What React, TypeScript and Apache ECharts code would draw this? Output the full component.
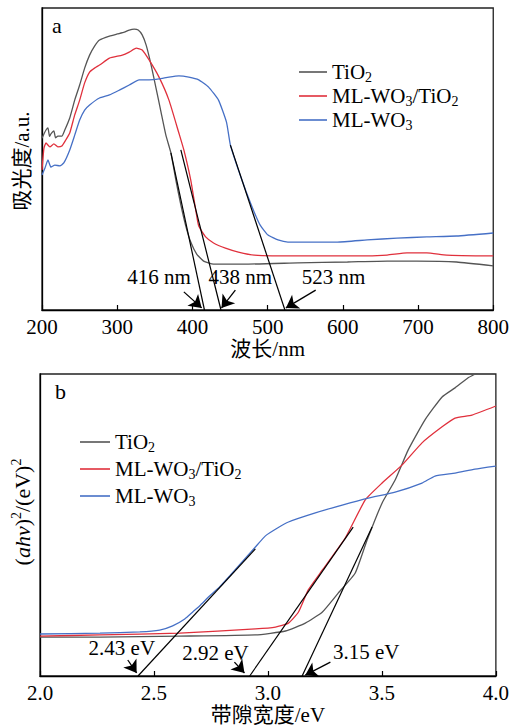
import React, { useEffect, useRef } from "react";
import * as echarts from "echarts";

// ---------- Panel a: UV-vis absorption (wavelength nm, absorbance a.u.) ----------
const tio2A: number[][] = [
  [200, 56.9], [203, 58.5], [205.3, 59.6], [207.9, 60.3], [210, 57.5], [211.9, 58.3], [215.8, 59.3], [218, 57.0],
  [221.1, 57.6], [226.4, 57.6], [230.3, 59.6], [236.9, 63.6], [243.5, 69.5], [250.1, 74.5],
  [256.7, 80.1], [263.3, 84.4], [269.9, 87.4], [276.5, 89.4], [289.7, 90.7], [300.2, 91.4],
  [309.5, 92.0], [316.0, 92.7], [322.6, 93.0], [327.9, 92.7], [333.2, 91.1], [338.5, 87.7],
  [345.1, 81.1], [351.6, 73.5], [358.2, 65.6], [364.8, 57.8], [371.4, 52.0], [378.0, 43.0],
  [384.6, 34.8], [391.2, 27.8], [397.8, 22.5], [405.7, 18.5], [414.9, 16.2], [428.0, 15.2],
  [474.3, 15.2], [540.2, 15.6], [606.2, 15.9], [658.9, 16.2], [698.5, 16.2], [751.2, 15.9], [800, 14.6],
];
const mlwo3TiO2A: number[][] = [
  [200, 46.4], [202.6, 53.6], [205.3, 55.3], [210.5, 54.0], [215.8, 55.0], [221.1, 54.0],
  [226.4, 54.3], [231.6, 56.3], [236.9, 58.6], [243.5, 64.6], [250.1, 69.5], [256.7, 75.2],
  [263.3, 78.8], [269.9, 80.1], [276.5, 81.1], [289.7, 83.4], [306.8, 84.4], [316.0, 85.4],
  [325.3, 86.7], [333.2, 86.1], [342.4, 82.8], [355.6, 77.1], [368.8, 69.5], [382.0, 58.6],
  [388.6, 53.0], [397.8, 43.0], [404.4, 33.1], [408.4, 27.8], [417.6, 24.2], [428.1, 22.2],
  [443.9, 20.5], [461.1, 19.2], [482.2, 18.2], [540.2, 17.9], [619.3, 17.9], [658.9, 18.2],
  [685.3, 18.9], [711.6, 18.9], [738.0, 18.2], [800, 17.9],
];
const mlwo3A: number[][] = [
  [200, 44.7], [204, 47.0], [207.9, 49.7], [211.9, 47.3], [217.1, 48.0], [223.7, 47.7],
  [229.0, 48.7], [236.9, 53.0], [243.5, 57.9], [250.1, 62.9], [256.7, 66.2], [263.3, 67.9],
  [276.5, 70.2], [289.7, 71.2], [302.8, 72.8], [316.0, 74.5], [329.2, 76.2], [342.4, 76.2],
  [355.6, 76.5], [368.8, 77.1], [382.0, 77.5], [395.2, 77.1], [408.4, 76.2], [421.5, 73.8],
  [434.7, 69.5], [445.3, 62.2], [450.5, 54.6], [461.1, 46.4], [471.6, 39.1], [482.2, 32.4],
  [490.1, 28.1], [500.6, 24.8], [513.8, 23.2], [527.0, 22.5], [553.3, 22.5], [592.9, 22.5],
  [632.4, 23.2], [672.0, 23.8], [711.6, 24.2], [751.2, 24.5], [800, 25.5],
];
const edgesA = [416, 438, 523];
const tangentTopsA: number[][] = [[371.4, 52.0], [384.6, 53.0], [450.5, 54.6]];
const arrowStartsA: number[][] = [[388.6, 6.0], [457.1, 6.6], [563.9, 6.6]];
const arrowEndsA: number[][] = [[412.3, 0.7], [438.7, 0.7], [524.3, 0.7]];
const edgeLabelsA = ["416 nm", "438 nm", "523 nm"];
const edgeLabelPosA: number[][] = [[355.6, 10.9], [463.7, 10.9], [587.7, 10.9]];
const ticksA = [200, 300, 400, 500, 600, 700, 800];

// ---------- Panel b: Tauc plot (band gap eV) ----------
const tio2B: number[][] = [
  [2.0, 12.9], [2.263, 12.9], [2.613, 13.2], [2.945, 13.6], [3.077, 14.9], [3.164, 17.5],
  [3.239, 21.2], [3.309, 27.5], [3.383, 34.1], [3.435, 45.0], [3.501, 57.3], [3.558, 64.9],
  [3.615, 74.8], [3.689, 84.8], [3.764, 92.4], [3.821, 95.4], [3.877, 98.7], [3.917, 100.3], [4.0, 104],
];
const mlwo3TiO2B: number[][] = [
  [2.0, 13.2], [2.263, 13.6], [2.613, 14.2], [2.945, 15.6], [3.033, 16.2], [3.090, 17.5],
  [3.134, 21.2], [3.177, 28.5], [3.239, 35.1], [3.339, 45.7], [3.427, 58.3], [3.501, 63.9],
  [3.589, 69.9], [3.676, 77.2], [3.764, 82.5], [3.821, 85.4], [3.895, 86.4], [4.0, 89.4],
];
const mlwo3B: number[][] = [
  [2.0, 13.9], [2.263, 14.2], [2.438, 14.6], [2.525, 15.2], [2.582, 16.6], [2.635, 18.9],
  [2.670, 21.2], [2.700, 23.2], [2.744, 26.5], [2.788, 29.5], [2.832, 33.1], [2.875, 36.8],
  [2.945, 42.7], [2.989, 46.4], [3.042, 49.0], [3.090, 51.0], [3.208, 54.0], [3.326, 56.6],
  [3.440, 58.9], [3.558, 60.9], [3.676, 63.9], [3.733, 66.2], [3.821, 67.2], [3.908, 68.5], [4.0, 69.5],
];
const edgesB = [2.43, 2.92, 3.15];
const tangentTopsB: number[][] = [[2.945, 42.1], [3.374, 49.3], [3.457, 49.3]];
const arrowStartsB: number[][] = [[2.385, 5.3], [2.853, 4.6], [3.274, 4.6]];
const arrowEndsB: number[][] = [[2.424, 1.0], [2.897, 1.0], [3.164, 0.3]];
const edgeLabelsB = ["2.43 eV", "2.92 eV", "3.15 eV"];
const edgeLabelPosB: number[][] = [[2.359, 9.3], [2.77, 7.6], [3.431, 7.9]];
const ticksB = [2.0, 2.5, 3.0, 3.5, 4.0];

const seriesNames = ["TiO2", "ML-WO3/TiO2", "ML-WO3"];
const colors = ["#555555", "#e0303c", "#4670c6"];

const SERIF = "Liberation Serif";
const SERIF_CJK = "Liberation Serif, Noto Sans CJK SC";

const legendRich = (name: string) => {
  if (name === "TiO2") return "{n|TiO}{s|2}";
  if (name === "ML-WO3/TiO2") return "{n|ML-WO}{s|3}{n|/TiO}{s|2}";
  return "{n|ML-WO}{s|3}";
};

const rich = {
  n: { fontSize: 21, lineHeight: 20, fontFamily: SERIF, color: "#000" },
  s: { fontSize: 14, lineHeight: 10, padding: [10, 0, 0, 0], fontFamily: SERIF, color: "#000" },
};

export default function App() {
  const ref = useRef<HTMLDivElement>(null);
  useEffect(() => {
    if (!ref.current) return;
    const chart = echarts.init(ref.current, null, { renderer: "svg" });

    const axisCommon = {
      axisLine: { show: true, onZero: false, lineStyle: { color: "#000", width: 1.3 } },
      splitLine: { show: false },
    };

    const xAxis = (idx: number, min: number, max: number, interval: number, name: string, fmt: (v: number) => string, ticks: number[]) => ({
      type: "value",
      gridIndex: idx,
      min,
      max,
      interval,
      name,
      nameLocation: "middle",
      nameGap: 28,
      nameTextStyle: { fontSize: 21, fontFamily: SERIF_CJK, color: "#000" },
      ...axisCommon,
      axisTick: { show: true, inside: true, length: 5, lineStyle: { color: "#000", width: 1.2 } },
      axisLabel: {
        fontSize: 21,
        fontFamily: SERIF,
        color: "#000",
        margin: 6,
        formatter: (v: number) => (ticks.some((t) => Math.abs(t - v) < 1e-6) ? fmt(v) : ""),
      },
    });

    const yAxis = (idx: number) => ({
      type: "value",
      gridIndex: idx,
      min: 0,
      max: 100,
      ...axisCommon,
      axisTick: { show: false },
      axisLabel: { show: false },
    });

    const curve = (name: string, data: number[][], color: string, idx: number) => ({
      type: "line",
      name,
      xAxisIndex: idx,
      yAxisIndex: idx,
      data,
      symbol: "none",
      showSymbol: false,
      smooth: 0.15,
      clip: true,
      lineStyle: { color, width: 1.3 },
      itemStyle: { color },
      silent: true,
    });

    const tangents = (edges: number[], tops: number[][], starts: number[][], ends: number[][], idx: number, tag: string) =>
      edges.map((e, i) => ({
        type: "line",
        name: `${tag}-tangent-${i}`,
        xAxisIndex: idx,
        yAxisIndex: idx,
        data: [tops[i], [e, 0]],
        symbol: "none",
        showSymbol: false,
        lineStyle: { color: "#000", width: 1.2 },
        silent: true,
        z: 3,
        markLine: {
          silent: true,
          symbol: ["none", "arrow"],
          symbolSize: 12,
          label: { show: false },
          lineStyle: { color: "#000", width: 1.3, type: "solid" },
          data: [[{ coord: starts[i] }, { coord: ends[i] }]],
        },
      }));

    const labels = (texts: string[], pos: number[][], idx: number, tag: string) => ({
      type: "scatter",
      name: `${tag}-labels`,
      xAxisIndex: idx,
      yAxisIndex: idx,
      symbol: "circle",
      symbolSize: 2,
      itemStyle: { color: "rgba(255,255,255,0)" },
      silent: true,
      data: texts.map((t, i) => ({ value: [pos[i][0], pos[i][1]], name: t })),
      label: {
        show: true,
        position: "inside",
        formatter: (p: any) => p.name,
        fontSize: 21,
        fontFamily: SERIF,
        color: "#000",
        opacity: 1,
        textBorderWidth: 0,
      },
      z: 5,
    });

    const legend = (left: number, top: number, gap: number, w: number) => ({
      orient: "vertical",
      left,
      top,
      padding: 0,
      itemGap: gap,
      itemWidth: w,
      itemHeight: 1.6,
      icon: "rect",
      selectedMode: false,
      data: seriesNames,
      formatter: legendRich,
      textStyle: { fontFamily: SERIF, fontSize: 21, color: "#000", rich },
    });

    chart.setOption({
      animation: false,
      backgroundColor: "#fff",
      textStyle: { fontFamily: SERIF_CJK, color: "#000" },
      grid: [
        { left: 42, top: 8, width: 455, height: 302, show: true, borderColor: "#222", borderWidth: 1.3, backgroundColor: "transparent" },
        { left: 40, top: 374, width: 457, height: 302, show: true, borderColor: "#222", borderWidth: 1.3, backgroundColor: "transparent" },
      ],
      xAxis: [
        xAxis(0, 200, 800, 100, "波长/nm", (v) => String(v), ticksA),
        xAxis(1, 2.0, 4.0, 0.5, "带隙宽度/eV", (v) => v.toFixed(1), ticksB),
      ],
      yAxis: [yAxis(0), yAxis(1)],
      legend: [legend(299, 60, 0, 28), legend(80, 430, 3, 30)],
      graphic: [
        { type: "text", left: 52, top: 14, style: { text: "a", fontSize: 22, fontFamily: SERIF, fill: "#000" } },
        { type: "text", left: 55, top: 380, style: { text: "b", fontSize: 22, fontFamily: SERIF, fill: "#000" } },
        {
          type: "text",
          x: 22,
          y: 161,
          rotation: Math.PI / 2,
          style: { text: "吸光度/a.u.", fontSize: 21, fontFamily: SERIF_CJK, fill: "#000", align: "center", verticalAlign: "middle" },
        },
        {
          type: "text",
          x: 22,
          y: 512,
          rotation: Math.PI / 2,
          style: {
            text: "{p|(}{i|ahv}{p|)}{u|2}{p|/(eV)}{u|2}",
            align: "center",
            verticalAlign: "middle",
            rich: {
              p: { fontSize: 22, lineHeight: 22, fontFamily: SERIF, fill: "#000" },
              i: { fontSize: 22, lineHeight: 22, fontFamily: SERIF, fontStyle: "italic", fill: "#000" },
              u: { fontSize: 14, lineHeight: 10, padding: [0, 0, 12, 0], fontFamily: SERIF, fill: "#000" },
            },
          },
        },
      ],
      series: [
        curve(seriesNames[0], tio2A, colors[0], 0),
        curve(seriesNames[1], mlwo3TiO2A, colors[1], 0),
        curve(seriesNames[2], mlwo3A, colors[2], 0),
        ...tangents(edgesA, tangentTopsA, arrowStartsA, arrowEndsA, 0, "a"),
        labels(edgeLabelsA, edgeLabelPosA, 0, "a"),
        curve(seriesNames[0], tio2B, colors[0], 1),
        curve(seriesNames[1], mlwo3TiO2B, colors[1], 1),
        curve(seriesNames[2], mlwo3B, colors[2], 1),
        ...tangents(edgesB, tangentTopsB, arrowStartsB, arrowEndsB, 1, "b"),
        labels(edgeLabelsB, edgeLabelPosB, 1, "b"),
      ],
    });
    return () => chart.dispose();
  }, []);

  return <div ref={ref} style={{ width: 512, height: 727, position: "absolute", left: 0, top: 0 }} />;
}
